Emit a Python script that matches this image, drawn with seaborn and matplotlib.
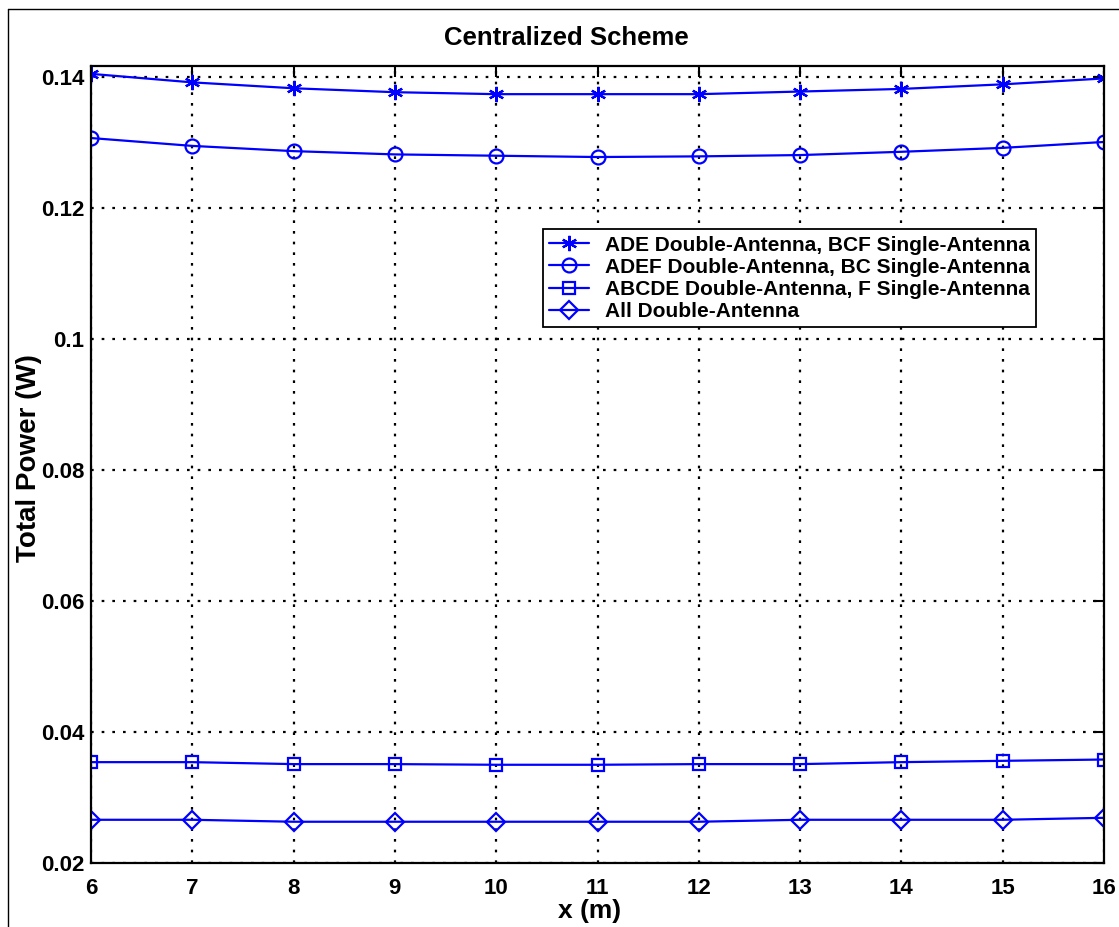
import matplotlib
matplotlib.use("Agg")
import matplotlib.pyplot as plt
from matplotlib.lines import Line2D
import seaborn as sns
import pandas as pd

# ---- data ----
x_m = [6, 7, 8, 9, 10, 11, 12, 13, 14, 15, 16]
ade = [0.1405, 0.1392, 0.1383, 0.1377, 0.1374, 0.1374, 0.1374, 0.1378, 0.1382, 0.1389, 0.1398]
adef = [0.1307, 0.1295, 0.1287, 0.1282, 0.1280, 0.1278, 0.1279, 0.1281, 0.1286, 0.1292, 0.1301]
abcde = [0.0354, 0.0354, 0.0351, 0.0351, 0.0350, 0.0350, 0.0351, 0.0351, 0.0354, 0.0356, 0.0358]
alld = [0.0266, 0.0266, 0.0263, 0.0263, 0.0263, 0.0263, 0.0263, 0.0266, 0.0266, 0.0266, 0.0269]
labels = ["ADE Double-Antenna, BCF Single-Antenna",
          "ADEF Double-Antenna, BC Single-Antenna",
          "ABCDE Double-Antenna, F Single-Antenna",
          "All Double-Antenna"]
xticks = [6, 7, 8, 9, 10, 11, 12, 13, 14, 15, 16]
yticks = [0.02, 0.04, 0.06, 0.08, 0.1, 0.12, 0.14]
ytick_labels = ["0.02", "0.04", "0.06", "0.08", "0.1", "0.12", "0.14"]
title = "Centralized Scheme"
xlabel = "x (m)"
ylabel = "Total Power (W)"

sns.set_theme(style="white")
plt.rcParams['font.family'] = ['Liberation Sans', 'DejaVu Sans']
plt.rcParams['font.weight'] = 'bold'

W, H = 1119, 927
fig = plt.figure(figsize=(W / 100, H / 100), dpi=100)
ax = fig.add_axes([91 / W, 1 - 863 / H, (1104 - 91) / W, (863 - 66) / H])

series = [ade, adef, abcde, alld]
markers = [(6, 2, 0), "o", "s", "D"]
msizes = [11, 10, 9, 9]
for vals, lab, mk, ms in zip(series, labels, markers, msizes):
    df = pd.DataFrame({"x": x_m, "y": vals})
    sns.lineplot(data=df, x="x", y="y", ax=ax, color="#0000ff", linewidth=1.6,
                 marker=mk, markersize=ms, markerfacecolor="none",
                 markeredgecolor="#0000ff", markeredgewidth=1.6, label=lab)

ax.set_xlim(6, 16)
ax.set_ylim(0.02, 0.1417)
ax.set_xticks(xticks)
ax.set_xticklabels([str(t) for t in xticks])
ax.set_yticks(yticks)
ax.set_yticklabels(ytick_labels)
ax.tick_params(direction="in", length=8, width=1.5, top=True, right=True,
               labelsize=16, color="black", labelcolor="black")
ax.tick_params(axis="x", pad=11)
ax.tick_params(axis="y", pad=5)
for lbl in ax.get_xticklabels() + ax.get_yticklabels():
    lbl.set_fontweight("bold")
ax.grid(True, color="black", linestyle=(0, (1.2, 3.6)), linewidth=1.6)
for sp in ax.spines.values():
    sp.set_color("black")
    sp.set_linewidth(1.6)
    sp.set_visible(True)

ax.set_xlabel(xlabel, fontsize=19, fontweight="bold", color="black")
ax.set_ylabel(ylabel, fontsize=20, fontweight="bold", color="black")
ax.xaxis.set_label_coords((590 - 91) / 1013, (863 - 899) / 797)
ax.yaxis.set_label_coords((42 - 91) / 1013, (863 - 458) / 797)
fig.text(566 / W, 1 - 38 / H, title, ha="center", va="center",
         fontsize=18.5, fontweight="bold", color="black")

leg = ax.legend(loc="upper left", bbox_to_anchor=(0.446, 0.795), fontsize=15,
                frameon=True, fancybox=False, shadow=False, framealpha=1,
                borderpad=0.3, labelspacing=0.15, handlelength=1.9,
                handletextpad=0.8, borderaxespad=0)
leg.get_frame().set_edgecolor("black")
leg.get_frame().set_linewidth(1.3)
for t in leg.get_texts():
    t.set_fontweight("bold")
    t.set_color("black")

# figure frame (top and left edges)
fig.add_artist(Line2D([8 / W, 1], [1 - 9 / H, 1 - 9 / H], color="black", linewidth=1,
                      transform=fig.transFigure))
fig.add_artist(Line2D([8 / W, 8 / W], [0, 1 - 9 / H], color="black", linewidth=1,
                      transform=fig.transFigure))

fig.savefig("out.png", dpi=100, facecolor="white")
